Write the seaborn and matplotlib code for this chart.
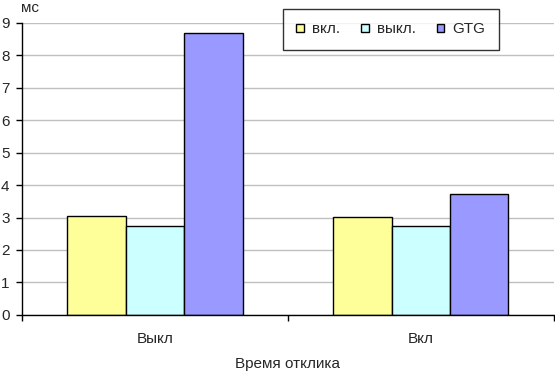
import matplotlib
matplotlib.use("Agg")
import matplotlib.pyplot as plt
import seaborn as sns
import pandas as pd
from matplotlib.ticker import FixedLocator

# data
categories = ["Выкл", "Вкл"]
series = ["вкл.", "выкл.", "GTG"]
val_on = [3.06, 3.03]
val_off = [2.75, 2.75]
val_gtg = [8.68, 3.74]
colors = ["#FFFF99", "#CCFFFF", "#9999FF"]

rows = []
for name, vals in zip(series, [val_on, val_off, val_gtg]):
    for cat, v in zip(categories, vals):
        rows.append({"cat": cat, "series": name, "value": v})
df = pd.DataFrame(rows)

sns.set_style("white")
plt.rcParams["font.family"] = ["Liberation Sans", "DejaVu Sans"]
plt.rcParams["font.size"] = 11

fig = plt.figure(figsize=(5.55, 3.74), dpi=100)
ax = fig.add_axes([0.0396, 0.158, 0.958, 0.781])

sns.barplot(data=df, x="cat", y="value", hue="series", order=categories,
            hue_order=series, palette=colors, width=0.66, gap=0,
            edgecolor="black", linewidth=1, saturation=1, ax=ax, legend=True)

ax.set_ylim(0, 9)
ax.set_xlim(-0.5, 1.5)
ax.set_yticks(range(10))
ax.yaxis.grid(True, color="#C0C0C0", linewidth=1)
ax.set_axisbelow(True)
for s in ["top", "right"]:
    ax.spines[s].set_visible(False)
for s in ["left", "bottom"]:
    ax.spines[s].set_color("black")
    ax.spines[s].set_linewidth(1)

ax.tick_params(axis="y", which="major", direction="out", length=4, width=1,
               color="black", left=True, pad=5, labelsize=11)
ax.tick_params(axis="x", which="major", length=0, pad=12, labelsize=11)
ax.xaxis.set_minor_locator(FixedLocator([-0.5, 0.5, 1.5]))
ax.tick_params(axis="x", which="minor", direction="out", length=4, width=1,
               color="black", bottom=True)

ax.set_ylabel("")
ax.set_xlabel("Время отклика", fontsize=11, labelpad=8)
fig.text(0.037, 0.978, "мс", fontsize=11, ha="left", va="center")

leg = ax.legend(loc="upper left", bbox_to_anchor=(0.476, 1.075), ncol=3,
                frameon=True, fancybox=False, edgecolor="black",
                handlelength=0.5, handleheight=0.5, columnspacing=1.35,
                handletextpad=0.55, borderpad=0.9, fontsize=11)
leg.get_frame().set_linewidth(1)

fig.savefig("out.png", dpi=100)
